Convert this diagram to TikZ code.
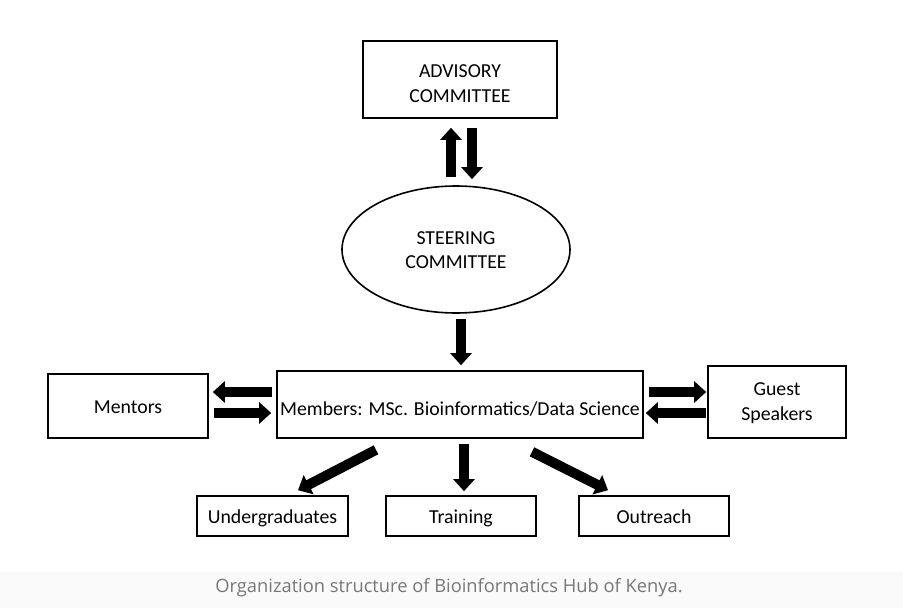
\documentclass[tikz,border=0pt]{standalone}
\usepackage{fontspec}
\setmainfont{Carlito}
\newfontfamily\capfont{Open Sans}
\usetikzlibrary{arrows.meta,shapes.geometric}
\definecolor{capgray}{HTML}{777777}
\definecolor{capbg}{HTML}{FAFAFA}
\tikzset{
  box/.style={draw,line width=1.6pt,align=center,inner sep=0pt,text height=18pt,text depth=4pt,font=\fontsize{19.8}{24.5}\selectfont},
  fat/.style={line width=10pt,-{Triangle[width=21pt,length=12pt]}}
}
\begin{document}
\begin{tikzpicture}[x=1pt,y=-1pt]
		\useasboundingbox (0,0) rectangle (903,608);
		\fill[capbg] (0,572) rectangle (903,608);
		\node[box,minimum width=194pt,minimum height=77pt,text height=49.8pt] (adv) at (460,79.5) {ADVISORY\\COMMITTEE};
		\node[box,ellipse,minimum width=228pt,minimum height=127pt,text height=42.8pt] (steer) at (456,249.5) {STEERING\\COMMITTEE};
		\node[box,minimum width=366pt,minimum height=67pt,text height=25pt] (mem) at (460,404.5) {Members: MSc. Bioinformatics/Data Science};
		\node[box,minimum width=160pt,minimum height=64pt,text height=19.8pt] (mentors) at (128,406) {Mentors};
		\node[box,minimum width=138pt,minimum height=72pt,text height=40.8pt] (guest) at (777,402) {Guest\\Speakers};
		\node[box,minimum width=151pt,minimum height=40pt] (ug) at (272.5,516) {Undergraduates};
		\node[box,minimum width=150pt,minimum height=40pt] (train) at (461,516) {Training};
		\node[box,minimum width=150pt,minimum height=40pt] (out) at (654,516) {Outreach};
		\draw[fat] ([xshift=-5pt,yshift=8pt]steer.north) -- ([xshift=-9pt,yshift=-9pt]adv.south);
		\draw[fat] ([xshift=12pt,yshift=-9pt]adv.south) -- ([xshift=16pt,yshift=6pt]steer.north);
		\draw[fat] ([xshift=5pt,yshift=-5pt]steer.south) -- ([xshift=1pt,yshift=5pt]mem.north);
		\draw[fat] ([xshift=-4pt,yshift=12.5pt]mem.west) -- ([xshift=4pt,yshift=14pt]mentors.east);
		\draw[fat] ([xshift=5pt,yshift=-7pt]mentors.east) -- ([xshift=-5pt,yshift=-8.5pt]mem.west);
		\draw[fat] ([xshift=5pt,yshift=12.5pt]mem.east) -- ([xshift=-1pt,yshift=10pt]guest.west);
		\draw[fat] ([xshift=-1pt,yshift=-11pt]guest.west) -- ([xshift=2pt,yshift=-8.5pt]mem.east);
		\draw[fat] ([xshift=-84pt,yshift=-11pt]mem.south) -- ([xshift=25.5pt,yshift=5pt]ug.north);
		\draw[fat] ([xshift=4pt,yshift=-5pt]mem.south) -- ([xshift=3pt,yshift=4pt]train.north);
		\draw[fat] ([xshift=72pt,yshift=-13pt]mem.south) -- ([xshift=-46pt,yshift=5pt]out.north);
		\node[font=\capfont\fontsize{18.3}{21}\selectfont,text=capgray,anchor=base] (cap) at (449,592) {Organization structure of Bioinformatics Hub of Kenya.};
	\end{tikzpicture}
\end{document}
